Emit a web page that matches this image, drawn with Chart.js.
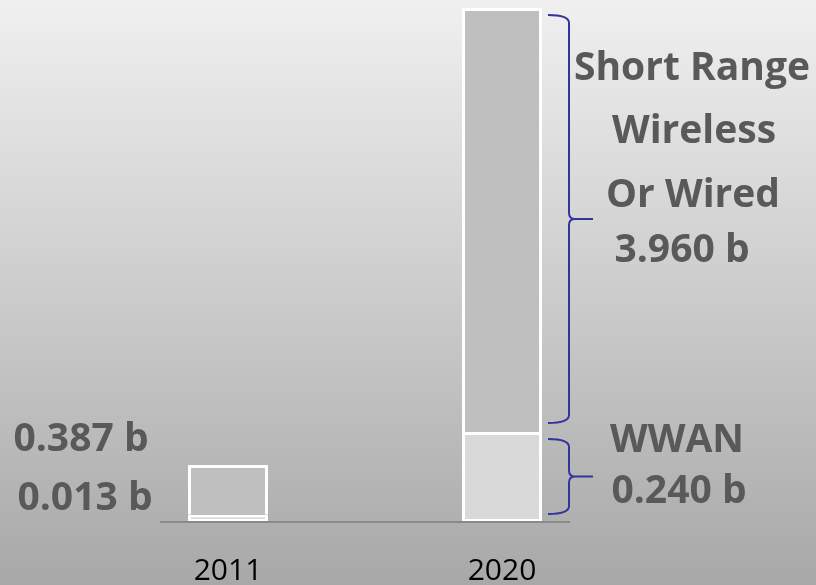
<!DOCTYPE html>
<html>
<head>
<meta charset="utf-8">
<script src="https://cdn.jsdelivr.net/npm/chart.js@4.4.0/dist/chart.umd.min.js"></script>
<style>
  html, body { margin: 0; padding: 0; }
  body { background: linear-gradient(to bottom, #f0f0f0 0%, #a8a8a8 100%); width: 816px; height: 585px; overflow: hidden; }
  #wrap { position: relative; width: 816px; height: 585px; }
</style>
</head>
<body>
<div id="wrap"><canvas id="paramChart"></canvas></div>
<script>
// categories
var years = ['2011', '2020'];
// segment heights as drawn in the picture (the original graphic is not to scale)
var wwan = [0.06, 0.735];
var shortRange = [0.405, 3.465];
// value labels written on the picture
var wwanLabels = ['0.013 b', '0.240 b'];
var shortLabels = ['0.387 b', '3.960 b'];
var shortTitle = ['Short Range', 'Wireless', 'Or Wired'];
var wwanTitle = 'WWAN';

var textColor = '#595959';
var braceColor = '#34349e';
var labelFont = 'bold 39px "Open Sans"';

function brace(ctx, xs, yTop, yBot) {
  var x0 = xs, xv = xs + 21, xt = xv + 24;
  var ym = (yTop + yBot) / 2;
  ctx.beginPath();
  ctx.moveTo(x0, yTop);
  ctx.quadraticCurveTo(xv, yTop, xv, yTop + 8);
  ctx.lineTo(xv, ym - 6);
  ctx.quadraticCurveTo(xv, ym, xv + 6, ym);
  ctx.lineTo(xt, ym);
  ctx.moveTo(xv + 6, ym);
  ctx.quadraticCurveTo(xv, ym, xv, ym + 6);
  ctx.lineTo(xv, yBot - 8);
  ctx.quadraticCurveTo(xv, yBot, x0, yBot);
  ctx.stroke();
}

var notes = {
  id: 'notes',
  afterDatasetsDraw: function(chart) {
    var ctx = chart.ctx;
    var low = chart.getDatasetMeta(0).data;
    var high = chart.getDatasetMeta(1).data;
    var a = high[0], b = high[1], w = low[1];

    ctx.save();
    // base line
    ctx.strokeStyle = '#8a8a8a';
    ctx.lineWidth = 2;
    ctx.beginPath();
    ctx.moveTo(low[0].x - 68, low[0].base);
    ctx.lineTo(low[1].x + 68, low[1].base);
    ctx.stroke();

    // braces
    ctx.strokeStyle = braceColor;
    ctx.lineWidth = 2;
    var xs = b.x + b.width / 2 + 6;
    brace(ctx, xs, b.y + 7, b.base - 9);
    brace(ctx, xs, w.y + 7, w.base - 8);

    // labels
    ctx.fillStyle = textColor;
    ctx.font = labelFont;
    ctx.textAlign = 'center';
    ctx.textBaseline = 'alphabetic';
    ctx.fillText(shortLabels[0], a.x - 147, a.y - 14);
    ctx.fillText(wwanLabels[0], a.x - 143, low[0].base - 12);

    var mid = (b.y + b.base) / 2;
    ctx.fillText(shortTitle[0], b.x + 190, mid - 140);
    ctx.fillText(shortTitle[1], b.x + 192, mid - 77);
    ctx.fillText(shortTitle[2], b.x + 191, mid - 13);
    ctx.fillText(shortLabels[1], b.x + 180, mid + 42);

    var wm = (w.y + w.base) / 2;
    ctx.fillText(wwanTitle, b.x + 175, wm - 25);
    ctx.fillText(wwanLabels[1], b.x + 177, wm + 26);
    ctx.restore();
  }
};

var ctx = document.getElementById('paramChart');
var barGraph = new Chart(ctx, {
  type: 'bar',
  data: {
    labels: years,
    datasets: [
      {
        label: 'WWAN',
        data: wwan,
        backgroundColor: '#d9d9d9',
        borderColor: '#ffffff',
        borderWidth: 3,
        borderSkipped: false
      },
      {
        label: 'Short Range Wireless Or Wired',
        data: shortRange,
        backgroundColor: '#bfbfbf',
        borderColor: '#ffffff',
        borderWidth: 3,
        borderSkipped: 'bottom'
      }
    ]
  },
  options: {
    responsive: true,
    maintainAspectRatio: false,
    animation: false,
    layout: { padding: { top: 8, left: 91, right: 177, bottom: 0 } },
    plugins: { legend: { display: false }, tooltip: { enabled: false } },
    datasets: { bar: { barPercentage: 1, categoryPercentage: 0.292 } },
    scales: {
      x: {
        stacked: true,
        grid: { display: false, drawTicks: false },
        border: { display: false },
        ticks: { color: '#000000', font: { family: 'Open Sans', size: 30 }, padding: 31 },
        afterFit: function(scale) { scale.height = 63; }
      },
      y: {
        stacked: true,
        display: false,
        min: 0,
        max: 4.2
      }
    }
  },
  plugins: [notes]
});
</script>
</body>
</html>
